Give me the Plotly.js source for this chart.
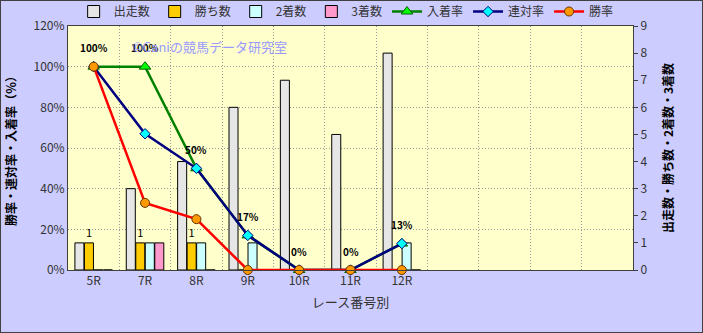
<!DOCTYPE html>
<html><head><meta charset="utf-8">
<script src="https://cdn.plot.ly/plotly-3.0.1.min.js"></script>
<style>
html,body{margin:0;padding:0;background:#CCCCFF;}
#chart{width:701px;height:331px;border:1px solid #404040;}
</style>
</head><body>
<div id="chart"></div>
<script>
const races = ['5R','7R','8R','9R','10R','11R','12R'];
const starts = [1,3,4,6,7,5,8];
const wins = [1,1,1,0,0,0,0];
const seconds = [0,1,1,1,0,0,1];
const thirds = [0,1,0,0,0,0,0];
const placeRate = [1.00,1.00,0.50,0.17,0,0,0.13];
const rentaiRate = [1.00,0.67,0.50,0.17,0,0,0.13];
const winRate = [1.00,0.33,0.25,0,0,0,0];
const rateLabels = ['100%','100%','50%','17%','0%','0%','13%'];
const nSlots = 11;

const xs = races.map((_,i)=>i);
const F = '"Noto Sans CJK JP", "DejaVu Sans", sans-serif';

const barLine = {color:'#000000', width:1};
const traces = [
 {type:'bar', name:'出走数', x:xs, y:starts, yaxis:'y', marker:{color:'#E6E6E6', line:barLine}},
 {type:'bar', name:'勝ち数', x:xs, y:wins, yaxis:'y', marker:{color:'#FFCC00', line:barLine},
  text:wins.map(v=>v>0?String(v):''), textposition:'outside', cliponaxis:false,
  textfont:{family:F, size:11, color:'#000'}},
 {type:'bar', name:'2着数', x:xs, y:seconds, yaxis:'y', marker:{color:'#CCFFFF', line:barLine}},
 {type:'bar', name:'3着数', x:xs, y:thirds, yaxis:'y', marker:{color:'#FF99CC', line:barLine}},
 {type:'scatter', mode:'lines+markers', name:'入着率', x:xs, y:placeRate, yaxis:'y2',
  line:{color:'#008000', width:2.5}, marker:{symbol:'triangle-up', size:10, color:'#00FF00', line:{color:'#006000', width:1}}, cliponaxis:false},
 {type:'scatter', mode:'lines+markers', name:'連対率', x:xs, y:rentaiRate, yaxis:'y2',
  line:{color:'#000080', width:2.5}, marker:{symbol:'diamond', size:8, color:'#00FFFF', line:{color:'#000080', width:1}}, cliponaxis:false},
 {type:'scatter', mode:'lines+markers', name:'勝率', x:xs, y:winRate, yaxis:'y2',
  line:{color:'#FF0000', width:2.5}, marker:{symbol:'circle', size:9, color:'#FF9900', line:{color:'#663300', width:1}}, cliponaxis:false}
];

const annotations = xs.map((x,i)=>({x:x, y:placeRate[i], xref:'x', yref:'y2', text:'<b>'+rateLabels[i]+'</b>',
  showarrow:false, yshift:19, font:{family:F, size:10, color:'#000'}}));
annotations.push({xref:'paper', yref:'paper', x:0.11, y:0.915, xanchor:'left', yanchor:'middle',
  text:'©Caniの競馬データ研究室', showarrow:false, font:{family:F, size:13, color:'#9999FF'}});

const gridDash = '1px,2px';
const layout = {
  width:701, height:331,
  margin:{l:67, r:69, t:25, b:62, autoexpand:false},
  paper_bgcolor:'#CCCCFF', plot_bgcolor:'#FFFFCC',
  font:{family:F, size:12, color:'#333'},
  barmode:'group', bargap:0.26, bargroupgap:0.05,
  showlegend:true,
  legend:{orientation:'h', x:0.01, y:1.0, xanchor:'left', yanchor:'bottom', bgcolor:'rgba(0,0,0,0)',
    font:{family:F, size:12, color:'#333'}, traceorder:'normal', itemwidth:30, tracegroupgap:0},
  xaxis:{range:[-0.5, nSlots-0.5], tickvals:xs, ticktext:races, showgrid:false, ticks:'',
    showline:true, linecolor:'#404040', linewidth:1, mirror:true,
    tickfont:{family:F, size:12, color:'#333'},
    minor:{tick0:0.5, dtick:1, showgrid:true, gridcolor:'#999999', griddash:gridDash, gridwidth:1, ticks:''},
    title:{text:'レース番号別', font:{family:F, size:13, color:'#333'}, standoff:10}, zeroline:false},
  yaxis:{side:'right', range:[0,9], dtick:1, showgrid:false, zeroline:false,
    ticks:'outside', ticklen:4, tickcolor:'#404040', showline:true, linecolor:'#404040',
    tickfont:{family:F, size:12, color:'#333'},
    title:{text:'<b>出走数・勝ち数・2着数・3着数</b>', font:{family:F, size:12, color:'#000'}, standoff:18}},
  yaxis2:{side:'left', overlaying:'y', range:[0,1.2], dtick:0.2, tickformat:'.0%',
    showgrid:true, gridcolor:'#999999', griddash:gridDash, zeroline:false,
    ticks:'', showline:true, linecolor:'#404040',
    tickfont:{family:F, size:12, color:'#333'},
    title:{text:'<b>勝率・連対率・入着率（％）</b>', font:{family:F, size:12, color:'#000'}, standoff:14}},
  annotations:annotations
};

Plotly.newPlot('chart', traces, layout, {displayModeBar:false, staticPlot:true});
</script>
</body></html>
